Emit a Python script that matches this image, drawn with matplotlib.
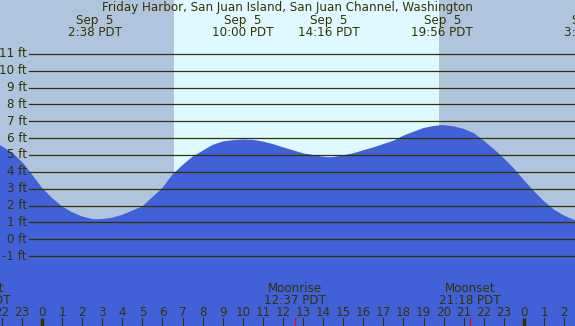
import matplotlib
matplotlib.use("Agg")
import matplotlib.pyplot as plt


# Tide data (hours since Sep 5 00:00 PDT, feet)
##########################################################################################
tide_hours = [-2.1, -1.5, -1, -0.5, 0, 0.5, 1, 1.5, 2, 2.5, 2.63, 3, 3.5, 4, 4.5, 5, 5.5,
              6, 6.5, 7, 7.5, 8, 8.5, 9, 9.5, 10, 10.5, 11, 11.5, 12, 12.5, 13, 13.5,
              14, 14.27, 14.5, 15, 15.5, 16, 16.5, 17, 17.5, 18, 18.5, 19, 19.5, 19.93,
              20.5, 21, 21.5, 22, 22.5, 23, 23.5, 24, 24.5, 25, 25.5, 26, 26.6]
tide_feet = [5.6, 5.15, 4.6, 3.85, 3.05, 2.45, 1.95, 1.6, 1.35, 1.2, 1.18, 1.2, 1.28,
             1.45, 1.7, 1.95, 2.5, 3.05, 3.85, 4.4, 4.9, 5.25, 5.6, 5.8, 5.88, 5.92,
             5.9, 5.8, 5.65, 5.46, 5.28, 5.1, 5.0, 4.9, 4.87, 4.88, 4.98, 5.1, 5.28,
             5.45, 5.65, 5.85, 6.15, 6.38, 6.6, 6.72, 6.78, 6.7, 6.55, 6.3, 5.85, 5.35,
             4.8, 4.2, 3.5, 2.85, 2.25, 1.75, 1.4, 1.1]

# high / low tide labels at the top
event_hours = [2.63, 10.0, 14.27, 19.93, 27.33]
event_dates = ["Sep  5", "Sep  5", "Sep  5", "Sep  5", "Sep  6"]
event_times = ["2:38 PDT", "10:00 PDT", "14:16 PDT", "19:56 PDT", "3:20 PDT"]

# moon events at the bottom
moon_hours = [-3.12, 12.62, 21.3]
moon_names = ["Moonset", "Moonrise", "Moonset"]
moon_times = ["20:53 PDT", "12:37 PDT", "21:18 PDT"]

sunrise = 6.57
sunset = 19.77

hour_ticks = list(range(-2, 27))
hour_labels = [str(h % 24) for h in hour_ticks]
ft_levels = list(range(-1, 12))

title = "Friday Harbor, San Juan Island, San Juan Channel, Washington"
##########################################################################################

W, H = 575, 326
night_col = "#b0c4de"
day_col = "#e0f8ff"
sea_col = "#4161d8"
ink = "#333300"
fs = 8.6

x0, x1 = -2.09, 26.54
y0, y1 = -5.15, 14.2


def fig_y(py):
    # pixel row from the top -> figure fraction
    return 1 - py / H


fig = plt.figure(figsize=(W / 100, H / 100), dpi=100)
ax = fig.add_axes([0, 0, 1, 1])
ax.set_xlim(x0, x1)
ax.set_ylim(y0, y1)
ax.axis("off")

# night / day background
ax.axvspan(x0, x1, color=night_col, lw=0)
ax.axvspan(sunrise, sunset, color=day_col, lw=0)

# the tide itself
ax.fill_between(tide_hours, tide_feet, y0, color=sea_col, lw=0)

# gridlines with foot labels
for f in ft_levels:
    ax.axhline(f, xmin=29 / W, xmax=1, color=ink, lw=0.9)
    ax.text(27 / W, f, "%d ft" % f, transform=ax.get_yaxis_transform(),
            ha="right", va="center", fontsize=fs, color=ink)

fig.text(0.5, fig_y(10.7), title, ha="center", va="baseline", fontsize=fs, color=ink)

for h, d, t in zip(event_hours, event_dates, event_times):
    xf = (h - x0) / (x1 - x0)
    fig.text(xf, fig_y(24), d, ha="center", va="baseline", fontsize=fs, color=ink)
    fig.text(xf, fig_y(36), t, ha="center", va="baseline", fontsize=fs, color=ink)

# hour ticks along the bottom
tr = ax.get_xaxis_transform()
tick_top = 8 / H
for h, lab in zip(hour_ticks, hour_labels):
    ax.text(h, 1 - 316 / H, lab, transform=tr, ha="center", va="baseline",
            fontsize=fs, color=ink)
    if h % 24 == 0:
        ax.plot([h, h], [0, tick_top], transform=tr, color=ink, lw=2.5,
                solid_capstyle="butt")
    else:
        ax.plot([h, h], [0, tick_top], transform=tr, color=ink, lw=0.8)

for h, n, t in zip(moon_hours, moon_names, moon_times):
    ax.text(h, 1 - 291.7 / H, n, transform=tr, ha="center", va="baseline",
            fontsize=fs, color=ink)
    ax.text(h, 1 - 304.3 / H, t, transform=tr, ha="center", va="baseline",
            fontsize=fs, color=ink)
    ax.plot([h, h], [0, tick_top], transform=tr, color="red", lw=0.8)

fig.savefig("out.png", dpi=100)
